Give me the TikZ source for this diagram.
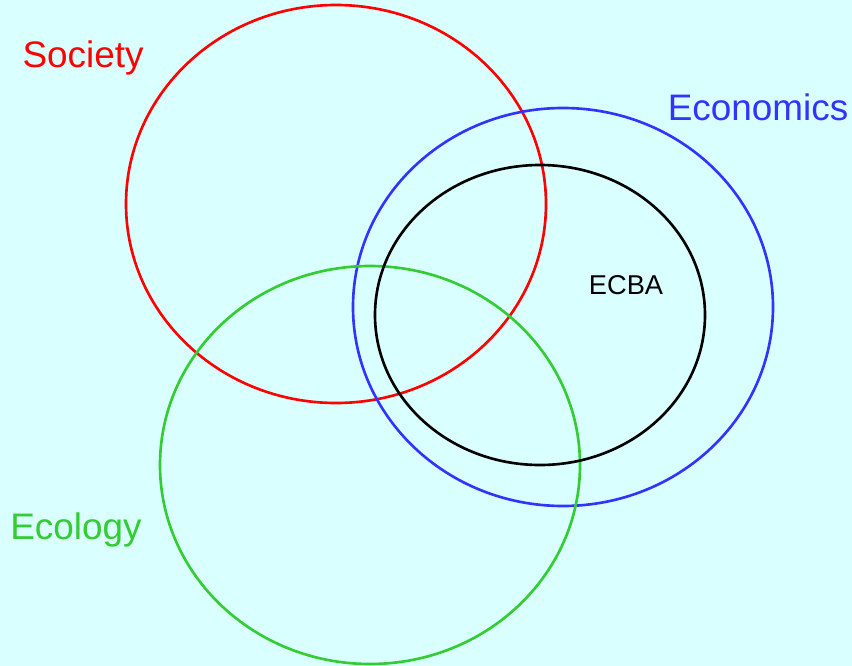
\documentclass[tikz,border=0pt]{standalone}
\usepackage{fontspec}
\setmainfont{Liberation Sans}
\usepackage{tikz}
\usetikzlibrary{positioning}

\definecolor{bgcyan}{RGB}{217,255,255}
\definecolor{socred}{RGB}{255,0,0}
\definecolor{ecoblue}{RGB}{51,51,255}
\definecolor{ecogreen}{RGB}{51,204,51}

\tikzset{
  ring/.style={line width=1.5pt},
  biglabel/.style={font=\fontsize{21}{24}\selectfont, inner sep=0pt},
}

\begin{document}
\begin{tikzpicture}[x=0.02cm, y=-0.02cm]
	\fill[bgcyan] (0,0) rectangle (852,666);
	\useasboundingbox (0,0) rectangle (852,666);

	% the four sets
	\draw[ring, socred] (336,204) ellipse [x radius=210, y radius=199];
	\draw[ring, ecoblue] (563,307) ellipse [x radius=210, y radius=199];
	\draw[ring, ecogreen] (370,465) ellipse [x radius=210, y radius=199];
	\draw[ring, black] (540,315) ellipse [x radius=165, y radius=150];

	% labels
	\node[biglabel, text=socred] (society) at (83,58) {Society};
	\node[biglabel, text=ecoblue] (economics) at (758,107) {Economics};
	\node[biglabel, text=ecogreen] (ecology) at (76,530) {Ecology};
	\node[font=\fontsize{15.5}{18}\selectfont, inner sep=0pt] (ecba) at (626,285) {ECBA};
\end{tikzpicture}
\end{document}
